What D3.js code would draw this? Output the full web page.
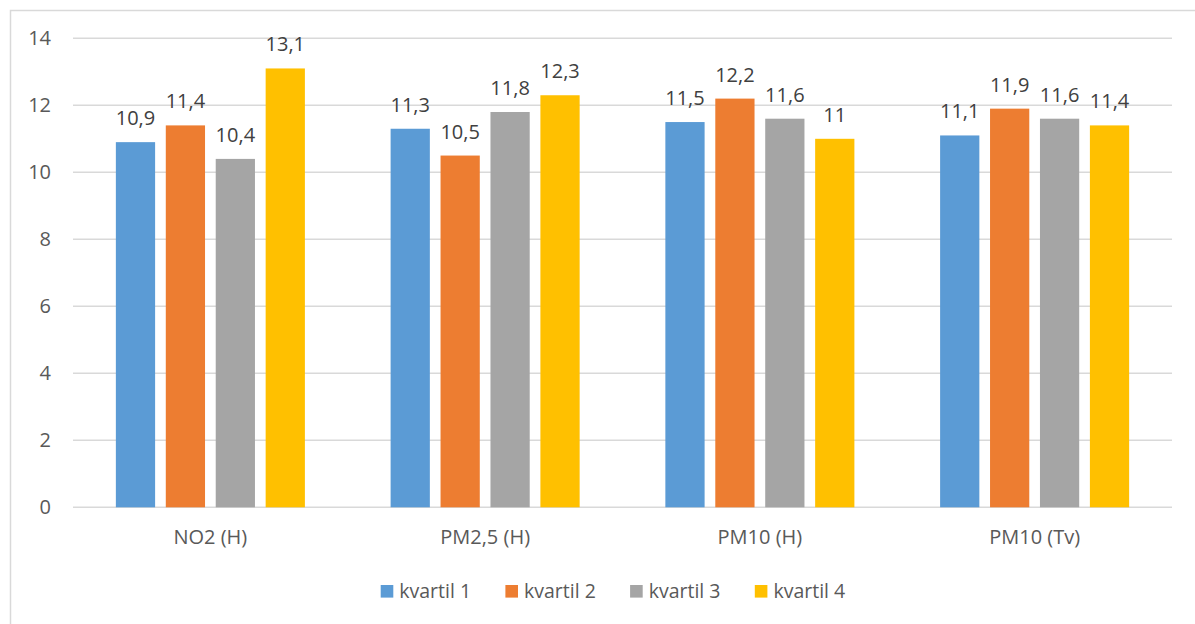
<!DOCTYPE html>
<meta charset="utf-8">
<style>
body { margin: 0; background: #fff; }
text { font-family: "Open Sans", sans-serif; }
</style>
<svg width="1195" height="624"></svg>
<script src="https://cdn.jsdelivr.net/npm/d3@7"></script>
<script>
var categories = ["NO2 (H)", "PM2,5 (H)", "PM10 (H)", "PM10 (Tv)"];
var seriesNames = ["kvartil 1", "kvartil 2", "kvartil 3", "kvartil 4"];
var kvartil1 = [10.9, 11.3, 11.5, 11.1];
var kvartil2 = [11.4, 10.5, 12.2, 11.9];
var kvartil3 = [10.4, 11.8, 11.6, 11.6];
var kvartil4 = [13.1, 12.3, 11, 11.4];
var yTicks = [0, 2, 4, 6, 8, 10, 12, 14];
var colors = ["#5B9BD5", "#ED7D31", "#A5A5A5", "#FFC000"];

var values = [kvartil1, kvartil2, kvartil3, kvartil4];

var svg = d3.select("svg");

// chart area border (runs off the right and bottom edge)
svg.append("rect")
    .attr("x", 10.5).attr("y", 10.5)
    .attr("width", 1300).attr("height", 800)
    .attr("fill", "none")
    .attr("stroke", "#d9d9d9")
    .attr("stroke-width", 1.5);

var x0 = d3.scaleBand().domain(categories).range([73, 1172]);
var groupPad = x0.bandwidth() * 0.156;
var x1 = d3.scaleBand().domain(seriesNames)
    .range([groupPad, x0.bandwidth() - groupPad])
    .paddingInner(0.214);
var y = d3.scaleLinear().domain([0, 14]).range([507.3, 38.3]);

var fmt = function(v) { return String(v).replace(".", ","); };

// gridlines
svg.append("g").selectAll("line")
  .data(yTicks)
  .enter().append("line")
    .attr("x1", 73).attr("x2", 1172)
    .attr("y1", function(d) { return y(d); })
    .attr("y2", function(d) { return y(d); })
    .attr("stroke", "#d9d9d9")
    .attr("stroke-width", 1.5);

// y tick labels
svg.append("g").selectAll("text")
  .data(yTicks)
  .enter().append("text")
    .attr("x", 51)
    .attr("y", function(d) { return y(d); })
    .attr("dy", "0.35em")
    .attr("text-anchor", "end")
    .attr("fill", "#595959")
    .style("font-size", "20px")
    .text(function(d) { return d; });

var rows = [];
categories.forEach(function(c, i) {
  seriesNames.forEach(function(s, j) {
    rows.push({cat: c, ser: s, j: j, v: values[j][i]});
  });
});

var bars = svg.append("g").selectAll("g")
  .data(rows)
  .enter().append("g")
    .attr("transform", function(d) { return "translate(" + (x0(d.cat) + x1(d.ser)) + ",0)"; });

bars.append("rect")
    .attr("x", 0)
    .attr("width", x1.bandwidth())
    .attr("y", function(d) { return y(d.v); })
    .attr("height", function(d) { return y(0) - y(d.v); })
    .attr("fill", function(d) { return colors[d.j]; });

bars.append("text")
    .attr("x", x1.bandwidth() / 2)
    .attr("y", function(d) { return y(d.v) - 17; })
    .attr("text-anchor", "middle")
    .attr("fill", "#404040")
    .style("font-size", "20px")
    .text(function(d) { return fmt(d.v); });

// category labels
svg.append("g").selectAll("text")
  .data(categories)
  .enter().append("text")
    .attr("x", function(d) { return x0(d) + x0.bandwidth() / 2; })
    .attr("y", 544)
    .attr("text-anchor", "middle")
    .attr("fill", "#595959")
    .style("font-size", "20px")
    .text(function(d) { return d; });

// legend
var legend = svg.append("g").selectAll("g")
  .data(seriesNames)
  .enter().append("g")
    .attr("transform", function(d, i) { return "translate(" + (380.7 + i * 124.7) + ",585)"; });

legend.append("rect")
    .attr("width", 12.6).attr("height", 12.6)
    .attr("fill", function(d, i) { return colors[i]; });

legend.append("text")
    .attr("x", 18.6)
    .attr("y", 6.3)
    .attr("dy", "0.36em")
    .attr("fill", "#595959")
    .style("font-size", "19.5px")
    .text(function(d) { return d; });
</script>
